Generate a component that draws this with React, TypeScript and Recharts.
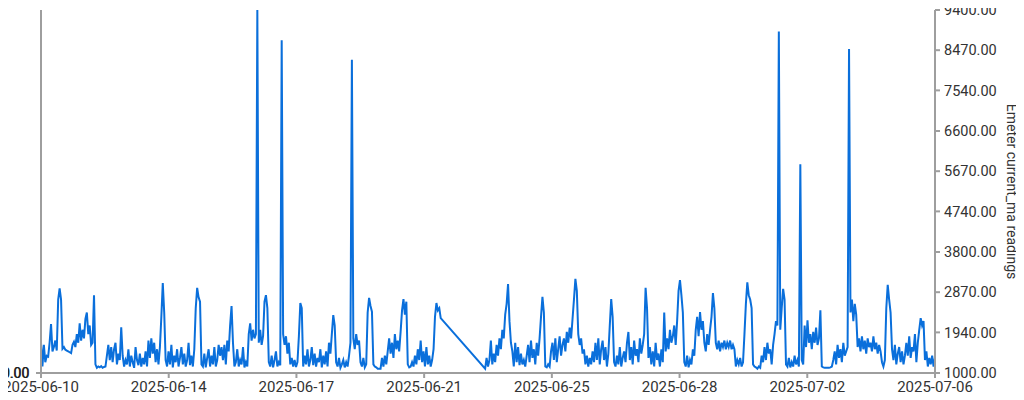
import { LineChart, Line, XAxis, YAxis } from "recharts"

// hourly readings, first block starts at hour 0 (2025-06-10)
const firstBlockStart = 0
const firstBlock = [
  1700, 1150, 1650, 1250, 1400, 1380, 1700, 2130, 1500, 1600, 1750, 1520, 2700, 2960, 2700,
  1560, 1600, 1540, 1520, 1500, 1480, 1460, 1650, 1720, 1600,
  1900, 1700, 2150, 1750, 2000, 1800, 2250, 2400, 1900, 2100, 1650, 1700, 2800,
  1200, 1120, 1150, 1130, 1160, 1120, 1140, 1150,
  1400, 1650, 1300, 1600, 1250, 1550, 1700, 1200, 1450, 1300, 2060, 1400,
  1150, 1300, 1200, 1550, 1150, 1400, 1250, 1120, 1600, 1300, 1180, 1450, 1150, 1350, 1200, 1500, 1150,
  1750, 1350, 1800, 1450, 1700, 1250, 1550, 1200, 1600, 2300, 3080, 2400,
  1300, 1150, 1500, 1200, 1650, 1130, 1400, 1250, 1550, 1150, 1350, 1600, 1200, 1450, 1150, 1300, 1700, 1180, 1400, 1150, 1550,
  2500, 2970, 2750, 2650,
  1200, 1150, 1450, 1130, 1350, 1550, 1150, 1400, 1200, 1600, 1150, 1300, 1650,
  1400, 1600, 1300, 1650, 1200, 1750, 1500, 2100, 2550, 1700, 1150, 1250,
  1550, 1150, 1300, 1200, 1600, 1130, 1250, 1150,
  1900, 2150, 1750, 2000, 1800, 1900, 9400, 1700, 2000, 1650, 1850, 2650, 2800, 2500,
  1250, 1150, 1400, 1130, 1300, 1500, 1150, 1250, 1180, 8700,
  1900, 1650, 1850, 1450, 1700, 1200, 1350, 1150, 1300, 1140, 1250, 1850, 2620, 2500,
  1150, 1400, 1200, 1550, 1150, 1300, 1600, 1180, 1450, 1150, 1350, 1250, 1550, 1130, 1400, 1200, 1500, 1150,
  1700, 1450, 1900, 2340, 2100,
  1250, 1150, 1350, 1120, 1200, 1300, 1130, 1250, 1150, 1400, 1700, 8250,
  1800, 1550, 1900, 1650, 1750, 1250, 1150, 1350, 1130, 1200, 2400, 2740, 2550, 2420,
  1200, 1150, 1130, 1100, 1100, 1100, 1350, 1150, 1400, 1200, 1500,
  1800, 1450, 1700, 1350, 1900, 1550, 1750, 1500, 1950, 2450, 2710, 2350, 2650,
  1200, 1130, 1150,
  1250, 1150, 1400, 1200, 1550, 1300, 1750, 1250, 1500, 1150, 1600, 1200, 1400, 1150, 1300, 1550,
  2300, 2620, 2450, 2500, 2270
]

// second block after the gap (hour 310 onward)
const secondBlockStart = 310
const secondBlock = [
  1100, 1350, 1150, 1300, 1750, 1200, 1450, 1250, 1650, 1400, 1800, 1550,
  2000, 1800, 2350, 2600, 3060, 2200, 1700,
  1500, 1150, 1700, 1250, 1600, 1180, 1450, 1200, 1300, 1150,
  1400, 1650, 1250, 1750, 1350, 1550, 1200, 1700, 1400, 1800, 2300, 2760, 2400,
  1150, 1130, 1200, 1150,
  1500, 1700, 1300, 1800, 1250, 1550, 1850, 1400, 1650,
  1800, 1500, 1950, 1700, 2050, 1800, 2250, 2700, 3180, 2900,
  1900, 1650, 1800, 1450, 1550, 1200, 1400, 1150, 1350, 1200,
  1500, 1250, 1700, 1300, 1800, 1200, 1550, 1750, 1300, 1600, 1150, 1450, 2100, 2710, 2300,
  1250, 1150, 1400, 1200, 1600, 1150, 1350, 1500, 1250, 1700, 1950,
  1300, 1600, 1200, 1750, 1400, 1550, 1250, 1800, 1450, 1650, 1900, 2970, 2500,
  1350, 1600, 1200, 1500, 1150, 1700, 1300, 1450, 1150, 1550, 1250, 2400,
  1500, 1800, 1550, 2000, 1700, 1850, 2100, 1650, 2200, 2900, 3150, 2800, 2400,
  1250, 1150, 1400, 1130, 1300, 1200, 1550, 1400,
  2000, 2300, 1850, 2410, 2000, 2200, 1700, 1500, 1900, 1650, 2000, 2300, 2850, 2500,
  1700, 1550, 1750, 1500, 1700, 1600, 1750, 1550, 1700, 1600, 1750, 1550, 1650, 1550,
  1150, 1300, 1200, 1350, 1150, 1250, 1900, 2600, 3100, 2800, 2700, 2500,
  1200, 1150, 1130, 1100, 1150, 1120,
  1400, 1250, 1600, 1300, 1700, 1450, 1550, 1200, 1650, 1900, 2200, 2100, 8900, 2000, 2500, 2945, 2700,
  1200, 1150, 1350, 1130, 1250, 1150, 1400, 1200, 1300, 1150, 5830, 1300, 1200,
  2100, 1600, 2220, 1700, 1900, 1550, 1950, 1700, 2050, 1650, 1800, 2450,
  1150, 1130, 1120, 1120, 1120, 1120, 1130, 1150, 1300,
  1500, 1200, 1650, 1350, 1550, 1250, 1700, 1400, 1500, 1600, 8500,
  2400, 2700, 2200, 2600, 2350,
  1600, 1800, 1500, 1850, 1550, 1750, 1450, 1800, 1600, 1700, 1500, 1850, 1550, 1700, 1450, 1650, 1500,
  1250, 1150, 1300, 2500, 3040, 2700, 2400,
  1550, 1300, 1650, 1200, 1450, 1600, 1250, 1500, 1200, 1400,
  1700, 1400, 1850, 1350, 1600, 1500, 1900, 1250, 1700, 2000, 2270, 2100, 2200,
  1300, 1500, 1150, 1350, 1200, 1400, 1150, 1350
]

const totalHours = 624
const xTickLabels = [
  "2025-06-10", "2025-06-14", "2025-06-17", "2025-06-21",
  "2025-06-25", "2025-06-28", "2025-07-02", "2025-07-06"
]
const yTicks = [1000, 1940, 2870, 3800, 4740, 5670, 6600, 7540, 8470, 9400]

const rows = [
  ...firstBlock.map((v, i) => ({ hour: firstBlockStart + i, value: v, zero: 0 })),
  ...secondBlock.map((v, i) => ({ hour: secondBlockStart + i, value: v, zero: 0 }))
]

const xTicks = xTickLabels.map((_, i) => (i * totalHours) / (xTickLabels.length - 1))

const font = "Roboto, 'Noto Sans', sans-serif"
const axisGray = "#9e9e9e"
const textColor = "#333"

// the source draws "0.00" twice on top of itself, which makes it look heavier
function LeftTick({ x, y }: any) {
  return (
    <g>
      <text x={x - 3} y={y} textAnchor="end" dominantBaseline="central" fontSize={14} fill="#222" fontFamily={font}>
        0.00
      </text>
      <text x={x - 2.4} y={y} textAnchor="end" dominantBaseline="central" fontSize={14} fill="#222" fontFamily={font}>
        0.00
      </text>
    </g>
  )
}

function AxisTitle({ viewBox }: any) {
  const x = viewBox.x + viewBox.width - 12
  const y = viewBox.y + viewBox.height / 2
  return (
    <text
      x={x}
      y={y}
      transform={`rotate(90 ${x} ${y})`}
      textAnchor="middle"
      dominantBaseline="central"
      fontSize={14}
      fill="#333"
      fontFamily={font}
    >
      Emeter current_ma readings
    </text>
  )
}

export default function App() {
  return (
    <div style={{ width: 1024, height: 392, marginLeft: -8, marginBottom: -8, fontFamily: font }}>
      <LineChart width={1024} height={392} data={rows} margin={{ top: 2, right: 0, bottom: 0, left: 0 }}>
        <XAxis
          dataKey="hour"
          type="number"
          domain={[0, totalHours]}
          ticks={xTicks}
          tickFormatter={(v: number) => xTickLabels[Math.round((v * (xTickLabels.length - 1)) / totalHours)]}
          height={27}
          tickSize={5}
          tickMargin={3}
          interval={0}
          stroke={axisGray}
          strokeWidth={2}
          tick={{ fontSize: 15, fill: textColor, fontFamily: font }}
        />
        <YAxis
          yAxisId="left"
          orientation="left"
          width={41}
          domain={[0, 1]}
          ticks={[0]}
          interval={0}
          tickSize={5}
          tickMargin={4}
          stroke={axisGray}
          strokeWidth={2}
          tick={<LeftTick />}
        />
        <YAxis
          yAxisId="right"
          orientation="right"
          width={89}
          domain={[1000, 9400]}
          ticks={yTicks}
          interval={0}
          tickSize={5}
          tickMargin={4}
          stroke={axisGray}
          strokeWidth={2}
          tickFormatter={(v: number) => v.toFixed(2)}
          tick={{ fontSize: 14.5, fill: textColor, fontFamily: font }}
          label={{ content: <AxisTitle /> }}
        />
        <Line
          yAxisId="left"
          dataKey="zero"
          stroke="none"
          dot={false}
          activeDot={false}
          isAnimationActive={false}
        />
        <Line
          yAxisId="right"
          type="linear"
          dataKey="value"
          stroke="#0a6fdb"
          strokeWidth={2}
          dot={false}
          isAnimationActive={false}
        />
      </LineChart>
    </div>
  )
}
